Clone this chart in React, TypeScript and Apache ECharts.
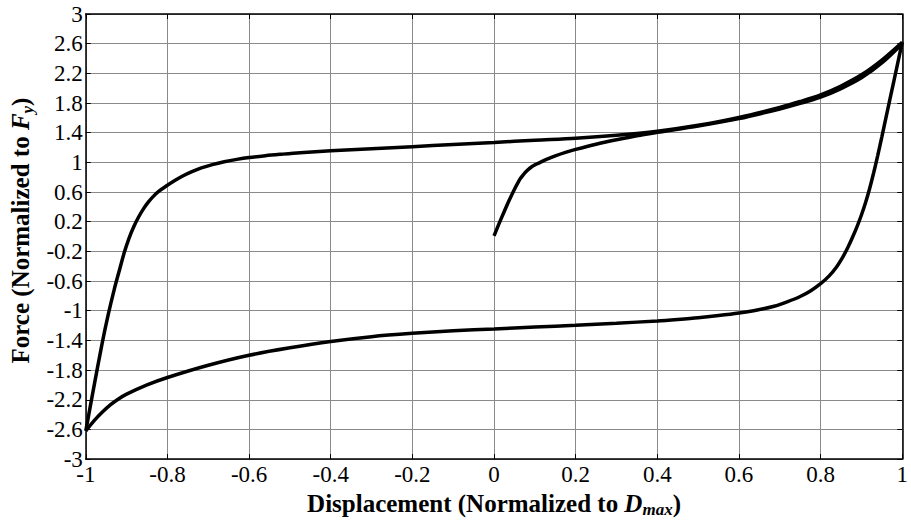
import React, { useEffect, useRef } from "react";
import * as echarts from "echarts";

// Virgin loading curve (first cycle, from origin up to peak)
const initialBranch: number[][] = [
  [0, 0.01], [0.012, 0.17], [0.024, 0.325], [0.036, 0.475], [0.048, 0.615],
  [0.06, 0.74], [0.065, 0.785], [0.07, 0.822], [0.075, 0.855], [0.08, 0.884],
  [0.085, 0.909], [0.09, 0.931], [0.095, 0.95], [0.1, 0.967], [0.113, 1.0],
  [0.13, 1.045], [0.15, 1.088], [0.175, 1.135], [0.2, 1.175], [0.25, 1.245],
  [0.3, 1.305], [0.35, 1.36], [0.4, 1.405], [0.5, 1.49], [0.6, 1.59],
  [0.7, 1.72], [0.75, 1.795], [0.8, 1.88], [0.85, 1.995], [0.9, 2.14],
  [0.95, 2.34], [1, 2.6],
];

// Unloading from +Dmax to -Dmax
const lowerBranch: number[][] = [
  [1, 2.62], [0.98, 2.11], [0.96, 1.6], [0.95, 1.345], [0.94, 1.095],
  [0.93, 0.86], [0.92, 0.645], [0.91, 0.455], [0.9, 0.29], [0.89, 0.145],
  [0.879, 0.0], [0.867, -0.145], [0.855, -0.27], [0.839, -0.41], [0.821, -0.53],
  [0.8, -0.635], [0.776, -0.73], [0.75, -0.808], [0.718, -0.88], [0.686, -0.94],
  [0.645, -0.99], [0.6, -1.03], [0.55, -1.065], [0.5, -1.095], [0.45, -1.118],
  [0.4, -1.138], [0.3, -1.168], [0.2, -1.195], [0.1, -1.22], [0, -1.245],
  [-0.1, -1.27], [-0.2, -1.305], [-0.3, -1.35], [-0.4, -1.415], [-0.5, -1.5],
  [-0.6, -1.6], [-0.7, -1.735], [-0.8, -1.9], [-0.85, -2.0], [-0.9, -2.125],
  [-0.92, -2.19], [-0.94, -2.27], [-0.96, -2.37], [-0.98, -2.485], [-1, -2.62],
];

// Reloading from -Dmax to +Dmax
const upperBranch: number[][] = [
  [-1, -2.62], [-0.98, -2.02], [-0.96, -1.44], [-0.945, -1.05], [-0.93, -0.705],
  [-0.918, -0.46], [-0.906, -0.22], [-0.894, -0.02], [-0.882, 0.14], [-0.87, 0.27],
  [-0.858, 0.38], [-0.846, 0.47], [-0.834, 0.545], [-0.82, 0.615], [-0.802, 0.685],
  [-0.784, 0.75], [-0.765, 0.81], [-0.74, 0.875], [-0.717, 0.925], [-0.69, 0.97],
  [-0.661, 1.008], [-0.63, 1.04], [-0.6, 1.065], [-0.56, 1.09], [-0.524, 1.108],
  [-0.475, 1.13], [-0.4, 1.155], [-0.3, 1.185], [-0.2, 1.212], [-0.1, 1.24],
  [0, 1.268], [0.1, 1.298], [0.2, 1.325], [0.3, 1.365], [0.4, 1.42],
  [0.5, 1.5], [0.6, 1.605], [0.7, 1.74], [0.75, 1.82], [0.8, 1.91],
  [0.85, 2.03], [0.9, 2.18], [0.95, 2.38], [1, 2.62],
];

const xRange = { min: -1, max: 1, interval: 0.2 };
const yRange = { min: -3, max: 3, interval: 0.4 };

const SERIF = "Liberation Serif";

const fmt = (v: number) => `{t|${String(Math.round(v * 10) / 10)}}`;

export default function App() {
  const ref = useRef<HTMLDivElement>(null);

  useEffect(() => {
    if (!ref.current) return;
    const chart = echarts.init(ref.current, undefined, { renderer: "svg" });

    const axisLine = { show: true, onZero: false, lineStyle: { color: "#000", width: 1.5 } };
    const axisTick = { show: true, inside: true, length: 5, lineStyle: { color: "#000", width: 1 } };
    const splitLine = { show: true, lineStyle: { color: "#8a8a8a", width: 1 } };
    const label = {
      fontFamily: SERIF,
      fontSize: 23,
      color: "#000",
      formatter: fmt,
      rich: {
        t: { fontFamily: SERIF, fontSize: 23, color: "#000", lineHeight: 24 },
      },
    };

    const nameRich = {
      b: { fontFamily: SERIF, fontWeight: "bold", fontSize: 25, color: "#000", lineHeight: 30 },
      bi: { fontFamily: SERIF, fontWeight: "bold", fontStyle: "italic", fontSize: 25, color: "#000", lineHeight: 30 },
      sub: { fontFamily: SERIF, fontWeight: "bold", fontStyle: "italic", fontSize: 17, color: "#000", lineHeight: 17, verticalAlign: "bottom" },
    };

    const lineSeries = (data: number[][]) => ({
      type: "line",
      data,
      showSymbol: false,
      symbol: "none",
      smooth: 0.3,
      clip: false,
      lineStyle: { color: "#000", width: 3.5 },
      z: 5,
    });

    chart.setOption({
      animation: false,
      backgroundColor: "#fff",
      textStyle: { fontFamily: SERIF, color: "#000" },
      grid: { left: 83, right: 1, top: 14, bottom: 61 },
      xAxis: [
        {
          type: "value",
          ...xRange,
          position: "bottom",
          axisLine,
          axisTick,
          splitLine,
          axisLabel: { ...label, margin: 3 },
          name: "{b|Displacement (Normalized to }{bi|D}{sub|max}{b|)}",
          nameLocation: "middle",
          nameGap: 24,
          nameTextStyle: { fontFamily: SERIF, rich: nameRich },
        },
        {
          type: "value",
          ...xRange,
          position: "top",
          axisLine,
          axisTick,
          splitLine: { show: false },
          axisLabel: { show: false },
        },
      ],
      yAxis: [
        {
          type: "value",
          ...yRange,
          position: "left",
          axisLine,
          axisTick,
          splitLine,
          axisLabel: { ...label, margin: 3 },
          name: "{b|Force (Normalized to }{bi|F}{sub|y}{b|)}",
          nameLocation: "middle",
          nameRotate: 90,
          nameGap: 49,
          nameTextStyle: { fontFamily: SERIF, rich: nameRich, padding: [0, 0, 0, 12] },
        },
        {
          type: "value",
          ...yRange,
          position: "right",
          axisLine,
          axisTick,
          splitLine: { show: false },
          axisLabel: { show: false },
        },
      ],
      series: [
        lineSeries(initialBranch),
        lineSeries(lowerBranch),
        lineSeries(upperBranch),
      ],
    });

    return () => chart.dispose();
  }, []);

  return (
    <div
      ref={ref}
      style={{ position: "fixed", left: 0, top: 0, width: 911, height: 523, background: "#fff" }}
    />
  );
}
